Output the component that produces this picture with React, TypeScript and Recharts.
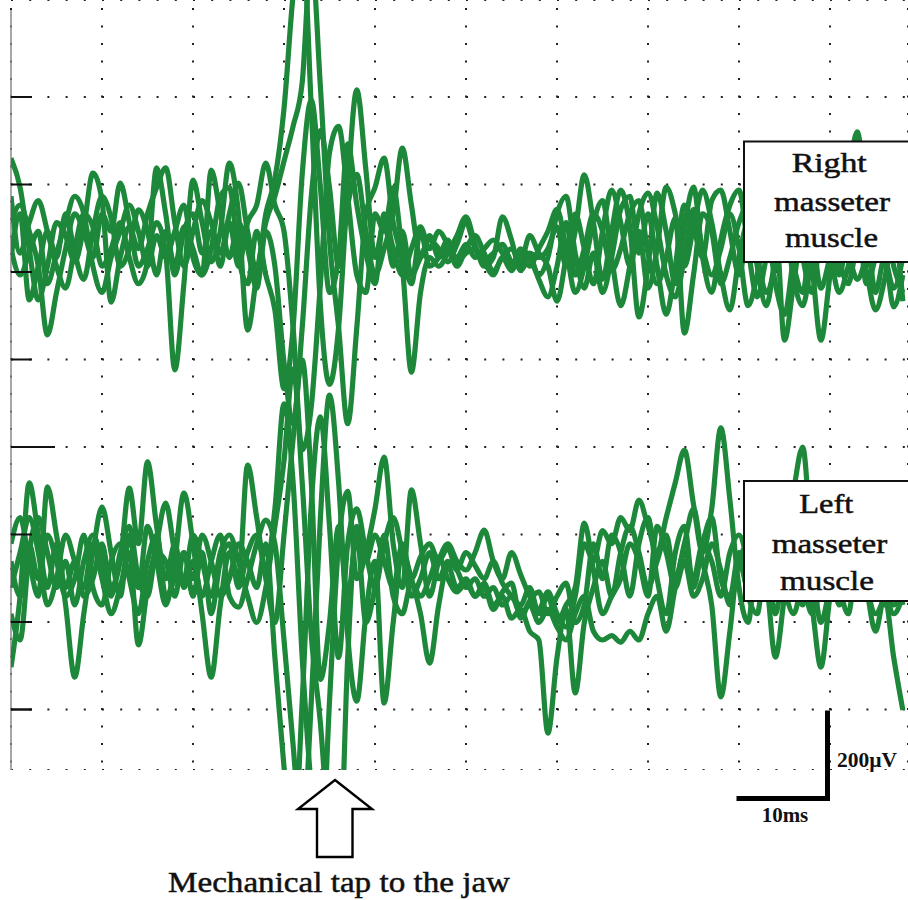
import React from "react";
import { LineChart, Line, XAxis, YAxis, CartesianGrid, ReferenceLine } from "recharts";

// Time axis (ms from the left edge of the trace window), sampled every 1 ms
const TIME_MS = [
  0, 1, 2, 3, 4, 5, 6, 7, 8, 9, 10, 11, 12, 13, 14, 15, 16, 17, 18, 19,
  20, 21, 22, 23, 24, 25, 26, 27, 28, 29, 30, 31, 32, 33, 34, 35, 36, 37, 38, 39,
  40, 41, 42, 43, 44, 45, 46, 47, 48, 49, 50, 51, 52, 53, 54, 55, 56, 57, 58, 59,
  60, 61, 62, 63, 64, 65, 66, 67, 68, 69, 70, 71, 72, 73, 74, 75, 76, 77, 78, 79,
  80, 81, 82, 83, 84, 85, 86, 87, 88, 89, 90, 91, 92, 93, 94, 95, 96, 97, 98,
];

// Right masseter muscle sweeps (µV, relative to channel baseline)
const RIGHT_1 = [
  187, 120, -20, -137, -60, 40, 10, -50, 30, 153, 90, -142, -40, 30, -20, 60, 120, 165, 40, -60,
  20, 90, 40, -30, 60, 130, 20, -70, 60, 140, 300, 560, 700, 300, -150, -330, -200, 120, 343, 160,
  -40, 40, -60, 20, -80, -40, 0, -20, -50, -10, 40, -20, -45, -30, -10, -50, -60, -30, -40, -20,
  30, -60, 20, 149, 40, -90, 20, 114, 30, -176, -60, 107, 20, -100, 30, 121, -40, -120, 0, 80,
  114, -20, -130, -40, 40, -229, -100, 20, -60, -229, -80, 60, 150, 247, 60, -120, -40, -153, -80,
];
const RIGHT_2 = [
  40, 80, 20, -60, -217, -120, -20, 60, 20, -40, 60, 20, 130, 40, -60, -20, 40, -30, -297, -100,
  137, 40, -50, 20, 176, 60, -206, -80, 40, 100, 180, 260, 360, 650, 350, 0, -200, -420, -200, 60,
  120, 187, 40, -60, -302, -120, -40, -60, -30, 10, 53, -10, -60, -40, 53, 0, -70, -40, -90, -130,
  -60, 40, -80, -20, 60, 20, -70, -20, 60, 90, -30, -100, -40, 50, -213, -80, 60, 20, -100, -40,
  40, 80, -60, -150, -40, 40, -90, -150, -40, 60, -30, -120, -60, 30, -70, -160, -90, 20, -140,
];
const RIGHT_3 = [
  -40, 60, -137, -60, 20, -40, 60, -30, -90, 20, 100, 50, -60, -20, 69, 20, -80, 20, -60, 30,
  -20, -80, 160, 60, -40, 40, -20, -110, 20, -60, -280, -420, -200, 100, 250, 120, -60, 80, 150, 20,
  -80, -20, 60, 210, 80, -40, 10, -40, -20, -60, -20, 10, -30, -70, -40, -20, -50, 10, -30, -60,
  -140, -40, 60, -20, -100, 20, 114, 40, -60, 20, -110, -20, 121, 60, -60, 30, 114, 40, -80, -160,
  -40, 40, -40, -120, -60, 30, 80, -40, -120, 20, 90, -40, -100, -20, -60, 40, -30, -110, -40,
];
const RIGHT_4 = [
  100, -30, 40, 90, 20, -60, -110, -20, 60, 30, -60, -20, 40, -40, -100, -50, 165, 60, -80, 20,
  60, -30, 20, -60, 40, -60, 40, 80, 176, 80, 20, -200, -480, -380, -100, 200, 260, 100, -80, -120,
  60, 20, 120, -20, -100, 20, -60, -40, 0, -50, -30, -20, -50, -80, -40, -70, -30, -60, -20, 20,
  70, -20, -120, -60, 40, 90, -40, -150, -60, 60, 107, 30, -80, -130, -40, 70, -20, -80, -20, 60,
  -20, -150, -80, 30, -100, -170, -40, 60, 20, -110, -40, 20, -30, -90, -40, 10, -60, -20, 30,
];
const RIGHT_5 = [
  -20, -80, -30, 20, -100, -30, 40, 100, 60, -60, -120, -40, 20, 80, 20, -60, 10, -40, 20, 80,
  -40, -80, -20, 100, 120, -40, -100, 20, -80, -160, -340, -200, 150, 320, 120, -120, -40, 220, 80, -30,
  -100, 60, -20, -80, -20, 30, -20, 20, -10, -40, -10, -40, -20, 0, -30, -60, -20, -40, -80, -40,
  60, 100, -30, -110, -30, -120, -40, 70, 100, -30, 60, -60, -170, -60, 80, 30, -40, 90, 114, 20,
  -80, 40, 110, 60, -40, 30, -60, -120, 40, 90, 30, -80, 20, 60, -100, -40, 40, -60, -120,
];

// Left masseter muscle sweeps (µV, relative to channel baseline)
const LEFT_1 = [
  -222, -60, 199, 80, -40, 60, -80, -245, -100, 40, 144, 40, -60, 80, -40, 100, 20, -80, 20, 176,
  60, -100, -245, -80, 40, -20, 240, 120, 0, 140, 380, 200, -200, -500, -700, -300, 60, 180, -20, 40,
  140, 258, 60, -40, 183, 60, -60, 20, 60, 20, 0, 40, 91, 20, -20, 40, -10, -60, -90, -50,
  -100, -130, -60, 60, 20, 90, 60, 120, 90, 160, 100, 40, 120, 200, 274, 150, 40, 140, 325, 160,
  -40, -120, 40, 20, -100, 40, 180, 281, 40, -120, -40, 20, -60, 40, -40, -100, -60, 0, -80,
];
const LEFT_2 = [
  60, 120, 20, -60, 190, 80, -40, 20, -60, -20, 60, -40, 20, 187, 60, 247, 100, -20, 60, -40,
  20, -60, 20, 80, -60, -85, -20, 60, 114, 60, -160, -400, -620, -300, 120, 400, 200, -150, -300, -100,
  20, -304, -120, 40, -20, -100, -213, -80, 10, -40, -20, -60, -30, -80, -60, -110, -90, -140, -160, -373,
  -200, -90, -281, -120, -40, 20, -60, 40, 100, 40, -40, 20, 80, -20, 60, 140, 20, -80, -290, -140,
  20, -40, 60, -20, -199, -60, 60, 20, -80, -222, -60, 40, -20, 60, -40, -140, -60, -200, -320,
];
const LEFT_3 = [
  -40, 40, 120, 40, -80, -20, 80, 20, -40, 60, -20, -100, -40, 40, -171, -40, 60, 153, 40, -20,
  80, 20, -60, 40, 80, 20, -60, -120, -40, 100, 250, 460, 200, -150, -350, -620, -720, -200, 100, 20,
  80, 20, -40, 60, -20, 30, 60, 20, 50, 0, 40, 10, -20, 20, -30, -60, -80, -40, -100, -60,
  -120, -80, -40, 107, 0, -100, -60, -20, 60, 20, -60, 100, 40, -40, 20, -60, -20, 60, 0, -80,
  20, 60, -60, 20, 80, -40, -100, -20, 40, -60, 20, -40, -100, 20, -60, 40, -20, -80, -40,
];
const LEFT_4 = [
  -100, -160, 40, 120, 40, -40, 20, -80, 20, 80, 20, -60, 40, 100, -20, -60, 40, 20, -60, 40,
  -20, 80, 20, -60, -20, 60, 20, -40, 60, -200, -450, -650, -300, 150, 350, 100, -200, 60, 140, 40,
  -40, 60, 120, 40, -60, -20, 40, -20, 20, 0, -40, -20, -60, -40, -80, -60, -100, -80, -120, -90,
  -130, -160, -100, -60, -140, -160, -150, -165, -140, -160, -100, -60, -140, -40, 40, -20, 60, 20, -60, 40,
  80, 20, -40, 60, 20, -60, 40, -20, -100, -40, 20, -80, -40, 20, -60, 20, -40, -100, -60,
];
const LEFT_5 = [
  20, -60, 60, -20, 80, 20, -60, -20, 80, -40, -80, 20, 60, -20, -100, 20, 80, -60, -20, 40,
  -60, 40, -100, 20, 60, -40, 40, 80, -20, -120, 80, 300, 480, 200, -250, -120, 100, -60, 80, -120,
  -40, 80, -60, -100, -30, -60, -20, 30, -20, -50, -30, -60, -40, -90, -50, -30, -110, -70, -50, -100,
  -60, -30, -120, -80, 60, -20, 80, 40, -60, 60, 120, -20, -100, 40, 100, -40, 60, 120, -20, -60,
  40, -60, -100, 40, -40, 80, -20, -80, 60, 20, -60, 60, 20, -40, 40, -20, -80, 20, -60,
];

const GRID_TICKS_UV = [0, 200, 400, 600, 800, 1000, 1200, 1400];
const TIME_TICKS_MS = [10, 20, 30, 40, 50, 60, 70, 80, 90];

const RIGHT_SERIES = [RIGHT_1, RIGHT_2, RIGHT_3, RIGHT_4, RIGHT_5];
const LEFT_SERIES = [LEFT_1, LEFT_2, LEFT_3, LEFT_4, LEFT_5];

const rows = TIME_MS.map((t, i) => {
  const row: Record<string, number> = { t };
  RIGHT_SERIES.forEach((s, k) => (row["r" + (k + 1)] = s[i]));
  LEFT_SERIES.forEach((s, k) => (row["l" + (k + 1)] = s[i]));
  return row;
});

const GREEN = "#1d873a";
const SERIF = "'Liberation Serif', 'Times New Roman', Times, serif";

const InwardTick = (props: any) => {
  const { x, y, payload } = props;
  const len = payload.value === 600 ? 44 : 21;
  return (
    <line
      x1={x}
      x2={x + len}
      y1={y}
      y2={y}
      stroke="#111"
      strokeWidth={payload.value === 0 ? 2.5 : 2}
    />
  );
};

const labelText = { fontFamily: SERIF, fontSize: 28, fill: "#111", stroke: "#111", strokeWidth: 0.5 };

export default function App() {
  return (
    <div
      style={{
        position: "absolute",
        left: 0,
        top: 0,
        width: 908,
        height: 900,
        overflow: "hidden",
        background: "#fff",
      }}
    >
      <LineChart
        width={908}
        height={770}
        data={rows}
        margin={{ top: 0, right: 0, bottom: 0, left: 0 }}
      >
        <XAxis
          type="number"
          dataKey="t"
          domain={[0, 98.57]}
          ticks={TIME_TICKS_MS}
          allowDataOverflow
          hide
        />
        <YAxis
          yAxisId="grid"
          type="number"
          domain={[-138.3, 1621.7]}
          ticks={GRID_TICKS_UV}
          width={11}
          axisLine={false}
          tickLine={false}
          tickSize={0}
          tickMargin={0}
          tick={<InwardTick />}
          allowDataOverflow
        />
        <YAxis yAxisId="right" type="number" domain={[-1211.4, 548.6]} allowDataOverflow hide />
        <YAxis yAxisId="left" type="number" domain={[-457.1, 1302.9]} allowDataOverflow hide />
        <CartesianGrid
          yAxisId="grid"
          vertical={false}
          stroke="#222"
          strokeWidth={2}
          strokeDasharray="2 16.2"
        />
        <CartesianGrid
          yAxisId="grid"
          horizontal={false}
          stroke="#222"
          strokeWidth={2}
          strokeDasharray="0 8 2 7.5"
        />
        <ReferenceLine
          yAxisId="grid"
          segment={[
            { x: 0, y: 1598.9 },
            { x: 0, y: -138.3 },
          ]}
          stroke="#8a8a8a"
          strokeWidth={1.5}
          ifOverflow="visible"
        />
        {RIGHT_SERIES.map((_, k) => (
          <Line
            key={"r" + k}
            yAxisId="right"
            dataKey={"r" + (k + 1)}
            type="monotone"
            stroke={GREEN}
            strokeWidth={5.2}
            strokeLinejoin="round"
            dot={false}
            activeDot={false}
            isAnimationActive={false}
          />
        ))}
        {LEFT_SERIES.map((_, k) => (
          <Line
            key={"l" + k}
            yAxisId="left"
            dataKey={"l" + (k + 1)}
            type="monotone"
            stroke={GREEN}
            strokeWidth={5.2}
            strokeLinejoin="round"
            dot={false}
            activeDot={false}
            isAnimationActive={false}
          />
        ))}
      </LineChart>
      <svg
        width={908}
        height={900}
        style={{ position: "absolute", left: 0, top: 0, pointerEvents: "none" }}
      >
        {/* channel labels */}
        <rect x={744} y={141.5} width={180} height={120.5} fill="#fff" stroke="#111" strokeWidth={2} />
        <g style={labelText as any}>
          <text x={791.7} y={171.7} textLength={75} lengthAdjust="spacingAndGlyphs">Right</text>
          <text x={774} y={211} textLength={116} lengthAdjust="spacingAndGlyphs">masseter</text>
          <text x={785} y={247} textLength={93} lengthAdjust="spacingAndGlyphs">muscle</text>
        </g>
        <rect x={744} y={481} width={180} height={120} fill="#fff" stroke="#111" strokeWidth={2} />
        <g style={labelText as any}>
          <text x={799.3} y={512.7} textLength={54} lengthAdjust="spacingAndGlyphs">Left</text>
          <text x={771.7} y={552.7} textLength={115.6} lengthAdjust="spacingAndGlyphs">masseter</text>
          <text x={780} y={590} textLength={94} lengthAdjust="spacingAndGlyphs">muscle</text>
        </g>
        {/* calibration bar */}
        <polyline
          points="827.5,710.5 827.5,798.5 736.5,798.5"
          fill="none"
          stroke="#000"
          strokeWidth={5}
          strokeLinejoin="miter"
        />
        <text
          x={837}
          y={766.7}
          fontFamily={SERIF}
          fontWeight="bold"
          fontSize={21}
          fill="#111"
          textLength={60}
          lengthAdjust="spacingAndGlyphs"
        >
          200µV
        </text>
        <text
          x={761.7}
          y={821.7}
          fontFamily={SERIF}
          fontWeight="bold"
          fontSize={20}
          fill="#111"
          textLength={46.6}
          lengthAdjust="spacingAndGlyphs"
        >
          10ms
        </text>
        {/* stimulus arrow */}
        <polygon
          points="335,780 372,809 352.5,809 352.5,857 317,857 317,809 298,809"
          fill="#fff"
          stroke="#000"
          strokeWidth={2.4}
          strokeLinejoin="miter"
        />
        <text
          x={168}
          y={891.7}
          fontFamily={SERIF}
          fontSize={30}
          fill="#111"
          stroke="#111"
          strokeWidth={0.5}
          textLength={342}
          lengthAdjust="spacingAndGlyphs"
        >
          Mechanical tap to the jaw
        </text>
      </svg>
    </div>
  );
}
